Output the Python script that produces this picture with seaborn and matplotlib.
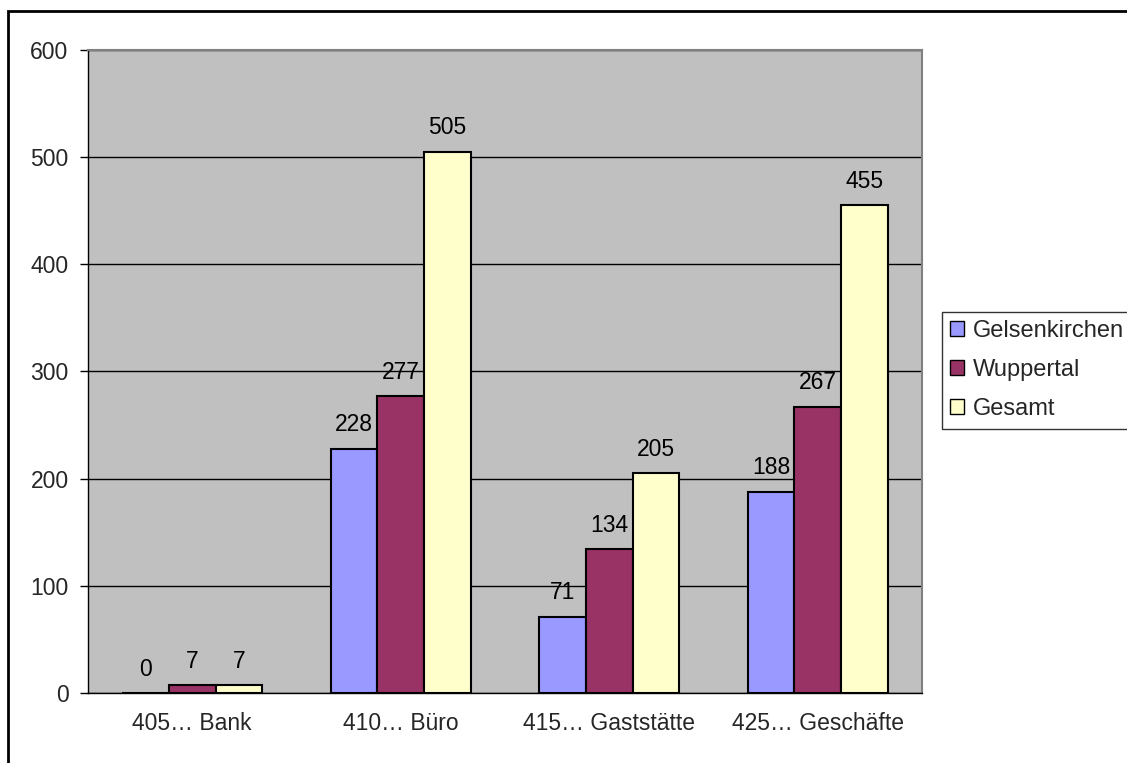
import matplotlib
matplotlib.use("Agg")
import matplotlib.pyplot as plt
import seaborn as sns
import pandas as pd
from matplotlib.patches import Rectangle, Patch

# Data
categories = ["405… Bank", "410… Büro", "415… Gaststätte", "425… Geschäfte"]
series_names = ["Gelsenkirchen", "Wuppertal", "Gesamt"]
gelsenkirchen = [0, 228, 71, 188]
wuppertal = [7, 277, 134, 267]
gesamt = [7, 505, 205, 455]
y_ticks = [0, 100, 200, 300, 400, 500, 600]

colors = ["#9999FF", "#993366", "#FFFFCC"]
FS = 16.5

rows = []
for name, vals in zip(series_names, [gelsenkirchen, wuppertal, gesamt]):
    for cat, v in zip(categories, vals):
        rows.append({"Kategorie": cat, "Ort": name, "Anzahl": v})
df = pd.DataFrame(rows)

sns.set_theme(style="white")
plt.rcParams["font.family"] = ["Liberation Sans", "DejaVu Sans"]

fig = plt.figure(figsize=(11.27, 7.63), dpi=100)
fig.patch.set_facecolor("white")
ax = fig.add_axes([88 / 1127, 1 - 693 / 763, (922 - 88) / 1127, (693 - 50) / 763])
ax.set_facecolor("#C0C0C0")

sns.barplot(data=df, x="Kategorie", y="Anzahl", hue="Ort", order=categories,
            hue_order=series_names, palette=colors, width=0.67, gap=0,
            edgecolor="black", linewidth=1.5, saturation=1, ax=ax, legend=False)

ax.set_ylim(0, 600)
ax.set_xlim(-0.5, len(categories) - 0.5)
ax.set_yticks(y_ticks)
ax.set_yticklabels([str(t) for t in y_ticks], fontsize=FS)
ax.set_xlabel("")
ax.set_ylabel("")

# Category tick labels centred, tick marks at group boundaries
ax.set_xticks(range(len(categories)))
ax.set_xticklabels(categories, fontsize=FS)
ax.tick_params(axis="x", length=0, pad=14)
ax.set_xticks([i - 0.5 for i in range(len(categories) + 1)], minor=True)
ax.tick_params(axis="x", which="minor", length=7, width=1, color="black", direction="out")
ax.tick_params(axis="y", length=6, width=1, color="black", direction="out", pad=8, left=True)

# Horizontal grid lines
ax.yaxis.grid(True, color="black", linewidth=1)
ax.set_axisbelow(True)

for side in ["left", "bottom"]:
    ax.spines[side].set_color("black")
    ax.spines[side].set_linewidth(1)
for side in ["top", "right"]:
    ax.spines[side].set_color("#808080")
    ax.spines[side].set_linewidth(1.5)

# Value labels above the bars
for cont in ax.containers:
    ax.bar_label(cont, labels=[f"{int(b.get_height())}" for b in cont],
                 padding=9, fontsize=FS, color="black")

# Legend
handles = [Patch(facecolor=c, edgecolor="black", linewidth=1) for c in colors]
leg = fig.legend(handles, series_names, loc="upper left",
                 bbox_to_anchor=(942 / 1127, 1 - 312 / 763),
                 frameon=True, fancybox=False, fontsize=FS + 0.5,
                 handlelength=0.6, handleheight=0.6, handletextpad=0.35,
                 labelspacing=0.72, borderpad=0.35, borderaxespad=0)
leg.get_frame().set_edgecolor("black")
leg.get_frame().set_linewidth(1)

# Outer chart border
fig.patches.append(Rectangle((8 / 1127, -0.05), 1.2, 1 - 11 / 763 + 0.05,
                             transform=fig.transFigure, fill=False,
                             edgecolor="black", linewidth=2, zorder=10))

fig.savefig("out.png", dpi=100)
